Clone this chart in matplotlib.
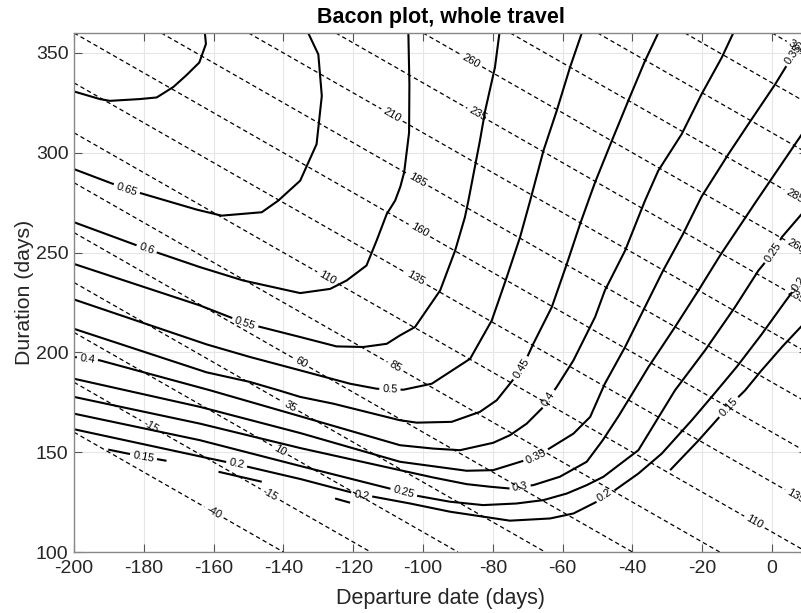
import numpy as np
import matplotlib
matplotlib.use('Agg')
import matplotlib.pyplot as plt
from matplotlib.contour import ContourSet

plt.rcParams['font.family'] = ['Liberation Sans', 'DejaVu Sans']
plt.rcParams['axes.unicode_minus'] = False

# arrival date iso-lines (departure + duration), days
arrival_levels = [-40, -15, 10, 35, 60, 85, 110, 135, 160, 185, 210, 235, 260, 285, 310, 335, 360]
arrival_label_pos = [(-160, 119.5), (-178, 163), (-144, 128), (-141, 151), (-138, 173),
                     (-135, 194.5), (-108, 192.5), (-127.5, 237), (-5.2, 114.5), (-102, 237),
                     (6.6, 127.5), (-101.4, 260), (-101.7, 286), (-109, 318.5), (-84.5, 318.5),
                     (6.6, 227.7), (-86.5, 345), (6.6, 252.5), (6.6, 278.5), (7.2, 352.5)]

# solid contour levels, traced as (departure, duration) points
levels = [0.15, 0.2, 0.25, 0.3, 0.35, 0.4, 0.45, 0.5, 0.55, 0.6, 0.65, 0.7]

c015 = [
    [(-190.2, 151.3), (-180.1, 147.7), (-173.5, 145.7)],
    [(-158.6, 140.2), (-146.2, 135.2)],
    [(-125.2, 126.8), (-120.9, 124.7)],
    [(-29.2, 141), (-21, 156), (-12.5, 172.7), (-7.7, 181), (-3, 191), (3, 203), (10, 216)],
]
c020 = [[(-200, 161.5), (-161, 146.8), (-153.4, 144), (-135, 136.5), (-117.6, 128.5),
         (-114.2, 127.7), (-103.7, 124.3), (-92.3, 120.2), (-75.1, 115.7), (-63.6, 116.8),
         (-56.9, 119.3), (-50.2, 125.2), (-47.9, 128.5), (-45, 131), (-38.3, 139.3),
         (-31.6, 149.3), (-23, 166), (-17.3, 177.7), (-10, 193), (-3, 209), (4, 226), (10, 240)]]
c025 = [[(-200, 169.3), (-163.9, 156), (-135, 143), (-105.5, 130), (-102.8, 128.5),
         (-92.3, 125.2), (-82.8, 123.5), (-73.2, 124.3), (-65.5, 126), (-58.8, 129.3),
         (-53.1, 133.5), (-48.3, 137.7), (-38.3, 151), (-27.8, 181), (-19.2, 201),
         (-10.6, 222.7), (-3.9, 241), (0.4, 250.2), (2.8, 257.7), (8.5, 269.3), (10, 272)]]
c030 = [[(-200, 177.7), (-163.9, 164.3), (-135, 152), (-106.6, 141), (-97, 137.3),
         (-87.5, 134), (-80.8, 132.7), (-75.1, 131.8), (-72.2, 132.7), (-68.4, 133.5),
         (-60.8, 137.7), (-53.1, 145.2), (-48.5, 156), (-44, 168), (-39.8, 180),
         (-35.4, 192.7), (-27.8, 212.7), (-21.1, 231), (-14.9, 248.5), (-4.4, 276),
         (3, 295), (10, 313)]]
c035 = [[(-200, 186.8), (-163.9, 172.7), (-135, 159.5), (-106.6, 145.2), (-87.5, 140.7),
         (-79.9, 141), (-67.5, 147.7), (-64.6, 151), (-56.9, 159.3), (-52.1, 167.7),
         (-49, 180), (-47.9, 184.3), (-42.1, 202.7), (-36.9, 221), (-31.2, 241),
         (-25.5, 259.3), (-20.2, 278), (-12.5, 299.3), (-6.8, 314.3), (0.9, 334.3),
         (5.6, 347.7), (10, 358)]]
c040 = [[(-200, 197.7), (-192.6, 196), (-161, 181), (-135.2, 168), (-106.6, 153.5),
         (-97, 151.8), (-89.4, 151), (-79.9, 154.7), (-75.1, 158.5), (-70.3, 164.3),
         (-65.5, 172.7), (-64.1, 176.8), (-61.7, 182.7), (-56.9, 196), (-50.7, 217.7),
         (-47.9, 231), (-42.1, 251), (-36.4, 276), (-32.6, 291), (-25.9, 309.3),
         (-20.2, 329.3), (-14.4, 347.7), (-11.1, 360)]]
c045 = [[(-200, 211.8), (-162, 190), (-149.6, 185.2), (-141, 180.8), (-135.2, 177.7),
         (-125.7, 174.3), (-106.6, 166), (-101.8, 164.8), (-91.8, 165.2), (-83.7, 170.2),
         (-78.9, 176), (-75.1, 184.3), (-71.7, 191.8), (-68.4, 204.3), (-63.1, 222.7),
         (-58.8, 244.3), (-55, 264.3), (-52.6, 276), (-50.7, 285.2), (-45.9, 306),
         (-41.2, 326), (-36.4, 346), (-32.6, 360)]]
c050 = [[(-200, 226.5), (-162, 204), (-149.6, 197.7), (-135.2, 191), (-120.9, 184.3),
         (-113.3, 181.8), (-105.6, 181.3), (-97.5, 184.3), (-86.5, 196.8), (-80.3, 216),
         (-76, 237.7), (-72.2, 257.7), (-69.3, 276), (-65.5, 301), (-61.7, 321),
         (-57.9, 342.7), (-54.5, 360)]]
c055 = [[(-200, 244.3), (-163.9, 223.5), (-151, 214.7), (-147.2, 213), (-135.2, 207.7),
         (-124.8, 203), (-117.1, 202.7), (-110.4, 204.3), (-106.6, 208.5), (-102.3, 212.7),
         (-95.1, 231), (-90.8, 251), (-88, 267.7), (-87, 276), (-83.7, 306), (-82.2, 321),
         (-79.4, 342.7), (-78.1, 360)]]
c060 = [[(-200, 265.2), (-179.2, 251.8), (-163.9, 242.7), (-151.5, 236), (-135.2, 229.7),
         (-126.6, 231.8), (-121.9, 236), (-116.2, 243.5), (-113.3, 256), (-110.4, 269.3),
         (-108, 276), (-106.5, 283), (-105.4, 290.2), (-104, 310), (-103.9, 334.3),
         (-104.2, 360)]]
c065 = [[(-200, 291.8), (-184.9, 281.8), (-164.8, 271.5), (-157.7, 268.5), (-146.2, 270.2),
         (-141.5, 276), (-135.2, 286), (-130.5, 304.3), (-129, 328.5), (-130, 349.3),
         (-132.9, 360)]]
c070 = [[(-162.5, 360), (-162.2, 354.5), (-164.1, 345.2), (-167.7, 339), (-171.5, 333),
         (-176.3, 327.7), (-181.1, 326.9), (-189.7, 326), (-192.6, 326.9), (-200, 330.7)]]

label_pos = [(-184.9, 281.8), (-179.2, 251.8), (-151, 214.7), (-109.5, 181.3),
             (-71.7, 191.8), (-196.2, 196.3), (-64.1, 176.8), (-67.5, 147.7), (5.6, 350),
             (-72.2, 132.7), (-105.5, 130), (0.4, 250.2), (-153.4, 144), (-117.6, 128.5),
             (-47.9, 128.5), (7.2, 235), (-180.1, 147.7), (-12.5, 172.7)]

fig = plt.figure(figsize=(8.01, 6.13), dpi=100)
ax = fig.add_axes([0.0924, 0.0995, 0.915, 0.8467])
ax.set_xlim(-200, 10)
ax.set_ylim(100, 360)

# dashed arrival-date lines
xg = np.linspace(-200, 10, 43)
yg = np.linspace(100, 360, 53)
Xg, Yg = np.meshgrid(xg, yg)
cs_arr = ax.contour(Xg, Yg, Xg + Yg, levels=arrival_levels, colors='k', linewidths=0.9)
cs_arr.set_linestyle((0, (3.5, 2.5)))

allsegs = [[np.array(s) for s in segs] for segs in
           [c015, c020, c025, c030, c035, c040, c045, c050, c055, c060, c065, c070]]
cs = ContourSet(ax, levels, allsegs, colors='k', linewidths=1.5)

fmt = lambda v: f'{v:g}'
ax.clabel(cs_arr, manual=arrival_label_pos, inline=True, inline_spacing=3, fontsize=8, fmt=fmt)
ax.clabel(cs, manual=label_pos, inline=True, inline_spacing=3, fontsize=8, fmt=fmt)

ax.set_xticks(np.arange(-200, 1, 20))
ax.set_yticks(np.arange(100, 351, 50))
ax.grid(True, color='#e6e6e6', linewidth=0.8)
ax.set_axisbelow(True)
ax.tick_params(direction='in', length=6, width=0.8, top=True, right=True,
               color='#555555', labelcolor='#262626', labelsize=14)
ax.tick_params(axis='x', pad=5.5)
ax.tick_params(axis='y', pad=4)
for sp in ax.spines.values():
    sp.set_color('#888888')
    sp.set_linewidth(1.0)

ax.set_xlabel('Departure date (days)', fontsize=15.5, color='#262626', labelpad=8)
ax.set_ylabel('Duration (days)', fontsize=15.3, color='#262626', labelpad=1.5)
ax.set_title('Bacon plot, whole travel', fontsize=15.5, fontweight='bold', pad=7)

fig.savefig('out.png', dpi=100)
